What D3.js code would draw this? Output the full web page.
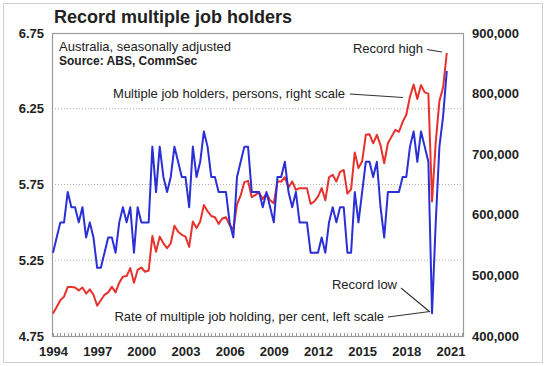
<!DOCTYPE html>
<html><head><meta charset="utf-8">
<script src="https://cdn.jsdelivr.net/npm/d3@7"></script>
<style>
html,body{margin:0;padding:0;background:#fff;}
svg text{font-family:"Liberation Sans",Arial,Helvetica,sans-serif;}
</style></head>
<body><svg id="c" width="548" height="366"></svg>
<script>
// Quarterly, Sep-1994 .. Jun-2021
const rate = [5.3,5.4,5.5,5.5,5.7,5.6,5.6,5.5,5.6,5.4, 5.5,5.4,5.2,5.2,5.3,5.4,5.4,5.3,5.5,5.6,
  5.5,5.6,5.3,5.6,5.5,5.5,5.5,6.0,5.7,6.0, 5.8,5.7,5.8,6.0,5.9,5.8,5.8,5.6,6.0,5.8,
  5.9,6.1,6.0,5.8,5.8,5.7,5.7,5.7,5.5,5.4, 5.8,5.9,6.0,6.0,5.7,5.7,5.7,5.6,5.7,5.6,
  5.5,5.8,5.8,5.9,5.7,5.6,5.7,5.5,5.5,5.5, 5.3,5.3,5.3,5.4,5.3,5.5,5.6,5.5,5.6,5.6,
  5.3,5.3,5.7,5.5,5.7,5.9,5.9,5.8,5.9,5.6, 5.4,5.7,5.7,5.7,5.7,5.8,5.8,6.0,6.1,5.9,
  6.1,6.0,5.9,4.9,5.5,6.0,6.2,6.5];
const personsK = [437,448,459,465,481,481,480,475,480,470, 477,468,450,459,468,472,481,472,488,498,
  499,512,488,509,513,506,508,565,539,564, 553,545,553,582,572,567,564,547,589,578,
  589,616,606,598,596,585,594,596,583,576, 617,632,654,656,629,633,637,626,635,624,
  619,655,655,662,645,655,641,644,644,644, 618,622,630,644,624,662,666,655,671,674,
  635,642,703,677,688,732,733,718,732,715, 685,718,729,740,737,753,765,795,815,791,
  814,802,800,622,720,788,810,867];
const yearLabels = ["1994","1997","2000","2003","2006","2009","2012","2015","2018","2021"];
const leftTicks = [4.75,5.25,5.75,6.25,6.75];
const rightTicks = [400000,500000,600000,700000,800000,900000];
const nCategories = 112; // quarters shown on axis (Sep-1994 .. Jun-2022)

const svg = d3.select("#c");
const L = 52, R = 463, T = 33, B = 336;

// outer frame
svg.append("rect").attr("x",3.5).attr("y",3.5).attr("width",539).attr("height",359)
  .attr("fill","none").attr("stroke","#d0d0d0").attr("stroke-width",1);

const x = d3.scaleLinear().domain([0, nCategories-1]).range([53, 461.5]);
const yL = d3.scaleLinear().domain([4.75,6.75]).range([B,T]);
const yR = d3.scaleLinear().domain([400000,900000]).range([B,T]);

// gridlines
svg.append("g").selectAll("line").data(leftTicks.slice(1,-1)).join("line")
  .attr("x1",L).attr("x2",R).attr("y1",d=>yL(d)).attr("y2",d=>yL(d))
  .attr("stroke","#b0b0b0").attr("stroke-width",1).attr("stroke-dasharray","1,2");

// quarterly ticks at bottom
svg.append("g").selectAll("line").data(d3.range(nCategories)).join("line")
  .attr("x1",d=>Math.round(x(d))+0.5).attr("x2",d=>Math.round(x(d))+0.5)
  .attr("y1",B).attr("y2",B-3).attr("stroke","#999").attr("stroke-width",1);

// plot frame
svg.append("rect").attr("x",L+0.5).attr("y",T+0.5).attr("width",R-L).attr("height",B-T)
  .attr("fill","none").attr("stroke","#9a9a9a").attr("stroke-width",1.2);

// axes labels
const axL = d3.axisLeft(yL).tickValues(leftTicks).tickSize(0).tickPadding(8).tickFormat(d3.format(".2f"));
svg.append("g").attr("transform",`translate(${L},0)`).call(axL)
  .call(g=>g.select(".domain").remove())
  .selectAll("text").attr("font-size","13px").attr("font-weight","bold").attr("fill","#222")
  .attr("font-family","Liberation Sans,Arial,sans-serif");
const axR = d3.axisRight(yR).tickValues(rightTicks).tickSize(0).tickPadding(9).tickFormat(d3.format(","));
svg.append("g").attr("transform",`translate(${R},0)`).call(axR)
  .call(g=>g.select(".domain").remove())
  .selectAll("text").attr("font-size","13px").attr("font-weight","bold").attr("fill","#222")
  .attr("font-family","Liberation Sans,Arial,sans-serif");
const axB = d3.axisBottom(x).tickValues(yearLabels.map((d,i)=>i*12)).tickSize(0).tickPadding(11)
  .tickFormat((d,i)=>yearLabels[i]);
svg.append("g").attr("transform",`translate(0,${B})`).call(axB)
  .call(g=>g.select(".domain").remove())
  .selectAll("text").attr("font-size","13px").attr("font-weight","bold").attr("fill","#222")
  .attr("font-family","Liberation Sans,Arial,sans-serif");

// lines
const redLine = d3.line().x((d,i)=>x(i)).y(d=>yR(d*1000));
const blueLine = d3.line().x((d,i)=>x(i)).y(d=>yL(d));
svg.append("path").datum(personsK).attr("d",redLine).attr("fill","none")
  .attr("stroke","#e8312c").attr("stroke-width",2).attr("stroke-linejoin","round");
svg.append("path").datum(rate).attr("d",blueLine).attr("fill","none")
  .attr("stroke","#2a2fd6").attr("stroke-width",2).attr("stroke-linejoin","round");

// text
const txt = (s, tx, ty, size, weight, anchor) => svg.append("text").text(s)
  .attr("x",tx).attr("y",ty).attr("font-size",size).attr("font-weight",weight||"normal")
  .attr("text-anchor",anchor||"start").attr("fill","#222");
txt("Record multiple job holders", 54, 23, "18px", "bold");
txt("Australia, seasonally adjusted", 59, 51, "13px");
txt("Source: ABS, CommSec", 59, 65, "12px", "bold");
txt("Record high", 423, 53, "13px", "normal", "end");
txt("Multiple job holders, persons, right scale", 345, 98, "13px", "normal", "end");
txt("Record low", 397, 289, "13px", "normal", "end");
txt("Rate of multiple job holding, per cent, left scale", 384, 321, "13px", "normal", "end");

// leader lines
const lead = (x1,y1,x2,y2)=>svg.append("line").attr("x1",x1).attr("y1",y1).attr("x2",x2).attr("y2",y2)
  .attr("stroke","#333").attr("stroke-width",1.2);
lead(427,49.5,442,52);
lead(350,94,403,97.5);
lead(401,288,430,312);
lead(388,317,430,311.5);
</script></body></html>
